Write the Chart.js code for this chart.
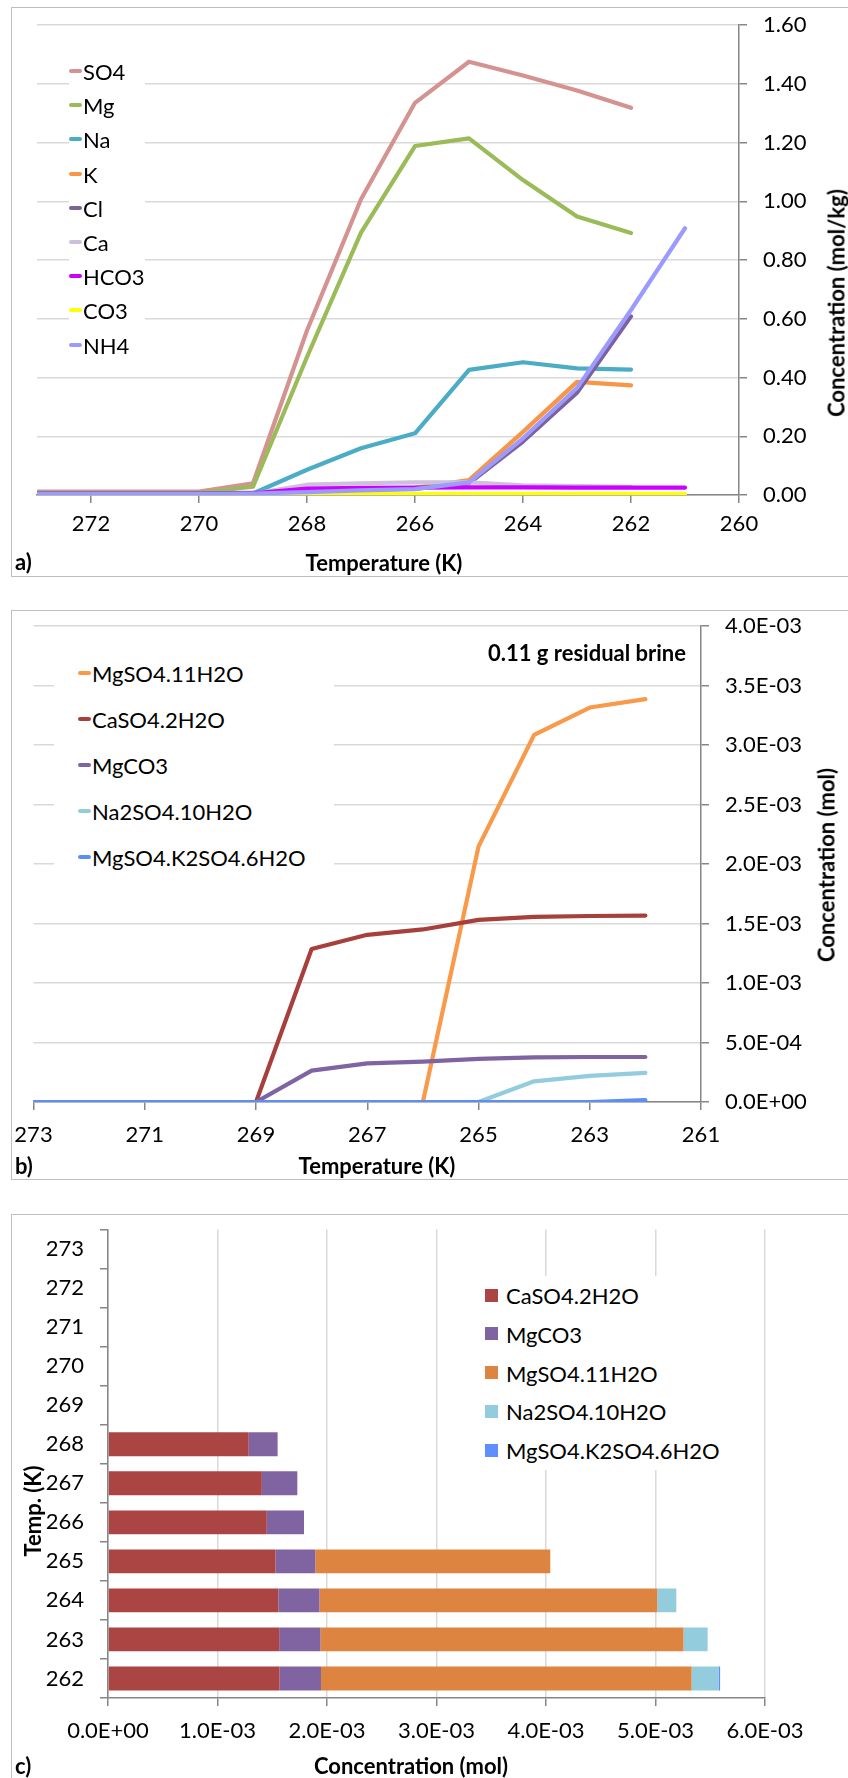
<!DOCTYPE html>
<html>
<head>
<meta charset="utf-8">
<script src="https://cdn.jsdelivr.net/npm/chart.js@4.4.0/dist/chart.umd.min.js"></script>
<style>
  body { margin: 0; background: #fff; width: 848px; height: 1778px; position: relative; overflow: hidden; font-family: Lato, "Open Sans", sans-serif; color: #000; }
  .panel { position: absolute; left: 11px; width: 850px; border: 1px solid #bfbfbf; box-sizing: border-box; }
  canvas { position: absolute; left: 0; }
  .txt { position: absolute; white-space: nowrap; transform: translate(-50%, -50%); }
  .bold { font-weight: bold; font-size: 22px; }
  .rot { transform: translate(-50%, -50%) rotate(-90deg); }
  .tag { position: absolute; white-space: nowrap; transform: translateY(-50%); font-weight: bold; font-size: 22px; }
  .legend { position: absolute; background: #fff; }
  .legend .item { position: absolute; white-space: nowrap; font-size: 22px; transform: translateY(-50%); }
  .legend .mark { position: absolute; }
</style>
</head>
<body>

<div class="panel" style="top:7px;height:570px"></div>
<div class="panel" style="top:610px;height:570px"></div>
<div class="panel" style="top:1214px;height:600px"></div>

<canvas id="chartA" width="848" height="580" style="top:0"></canvas>
<canvas id="chartB" width="848" height="590" style="top:600px"></canvas>
<canvas id="chartC" width="848" height="578" style="top:1200px"></canvas>

<div id="legendA" class="legend" style="left:69px;top:58px;width:76px;height:302px"></div>
<div id="legendB" class="legend" style="left:54px;top:648px;width:280px;height:232px"></div>
<div id="legendC" class="legend" style="left:470px;top:1276px;width:258px;height:194px"></div>

<div class="txt bold" style="left:384px;top:562px">Temperature (K)</div>
<div class="txt bold rot" style="left:836px;top:303px">Concentration (mol/kg)</div>
<div class="tag" style="left:15px;top:561px">a)</div>

<div class="tag" style="right:162px;top:652px">0.11 g residual brine</div>
<div class="txt bold" style="left:377px;top:1165px">Temperature (K)</div>
<div class="txt bold rot" style="left:826px;top:865px">Concentration (mol)</div>
<div class="tag" style="left:15px;top:1165px">b)</div>

<div class="txt bold" style="left:411px;top:1765px">Concentration (mol)</div>
<div class="txt bold rot" style="left:32px;top:1511px">Temp. (K)</div>
<div class="tag" style="left:15px;top:1765px">c)</div>

<script>
// a) brine composition
const tempA = [273, 272, 271, 270, 269, 268, 267, 266, 265, 264, 263, 262, 261];
const ionNames = ["SO4", "Mg", "Na", "K", "Cl", "Ca", "HCO3", "CO3", "NH4"];
const ionColors = ["#d49290", "#9bbb59", "#4bacc6", "#f79646", "#7d609e", "#cdc0dc", "#cc00ff", "#ffff00", "#9b9bff"];
const so4  = [0.012, 0.012, 0.012, 0.012, 0.040, 0.560, 1.007, 1.335, 1.475, 1.428, 1.377, 1.318];
const mg   = [0.008, 0.008, 0.008, 0.008, 0.028, 0.470, 0.893, 1.188, 1.214, 1.072, 0.948, 0.892];
const na   = [0.004, 0.004, 0.004, 0.004, 0.005, 0.086, 0.159, 0.210, 0.426, 0.452, 0.431, 0.427];
const k    = [0.003, 0.003, 0.003, 0.003, 0.004, 0.010, 0.018, 0.024, 0.051, 0.215, 0.385, 0.373];
const cl   = [0.006, 0.006, 0.006, 0.006, 0.007, 0.012, 0.018, 0.022, 0.040, 0.182, 0.348, 0.608];
const ca   = [0.002, 0.002, 0.002, 0.002, 0.004, 0.035, 0.040, 0.043, 0.043, 0.033, 0.030, 0.028];
const hco3 = [0.004, 0.004, 0.004, 0.004, 0.006, 0.022, 0.024, 0.025, 0.026, 0.026, 0.025, 0.025, 0.025];
const co3  = [0, 0, 0, 0, 0, 0.001, 0.003, 0.004, 0.004, 0.004, 0.004, 0.004, 0.004];
const nh4  = [0.004, 0.004, 0.004, 0.004, 0.005, 0.010, 0.016, 0.020, 0.043, 0.193, 0.364, 0.630, 0.908];
const ionValues = [so4, mg, na, k, cl, ca, hco3, co3, nh4];
const tickA = [272, 270, 268, 266, 264, 262, 260];

// b) and c) precipitated minerals
const tempB = [273, 272, 271, 270, 269, 268, 267, 266, 265, 264, 263, 262];
const tickB = [273, 271, 269, 267, 265, 263, 261];
const mgso4_11 = [0, 0, 0, 0, 0, 0, 0, 0, 2.146e-3, 3.085e-3, 3.315e-3, 3.385e-3];
const caso4    = [0, 0, 0, 0, 0, 1.285e-3, 1.405e-3, 1.450e-3, 1.530e-3, 1.556e-3, 1.563e-3, 1.567e-3];
const mgco3    = [0, 0, 0, 0, 0, 2.64e-4, 3.24e-4, 3.40e-4, 3.63e-4, 3.75e-4, 3.78e-4, 3.78e-4];
const na2so4   = [0, 0, 0, 0, 0, 0, 0, 0, 0, 1.74e-4, 2.20e-4, 2.45e-4];
const mgk2so4  = [0, 0, 0, 0, 0, 0, 0, 0, 0, 0, 0, 1.5e-5];

const lineNamesB = ["MgSO4.11H2O", "CaSO4.2H2O", "MgCO3", "Na2SO4.10H2O", "MgSO4.K2SO4.6H2O"];
const lineColorsB = ["#f9994a", "#a7403c", "#8064a2", "#93cddd", "#5b8ff5"];
const lineValuesB = [mgso4_11, caso4, mgco3, na2so4, mgk2so4];

const barNamesC = ["CaSO4.2H2O", "MgCO3", "MgSO4.11H2O", "Na2SO4.10H2O", "MgSO4.K2SO4.6H2O"];
const barColorsC = ["#ab4543", "#8064a2", "#dd8540", "#93cddd", "#5e8ffa"];
const barValuesC = [caso4, mgco3, mgso4_11, na2so4, mgk2so4];

Chart.defaults.font.family = "Lato, 'Open Sans', sans-serif";
Chart.defaults.font.size = 22;
Chart.defaults.color = "#000";

const axisGrey = "#868686";
const gridGrey = "#d9d9d9";

function pts(xs, ys) {
  return ys.map((y, i) => ({ x: xs[i], y: y }));
}

function sci(v) {
  if (Math.abs(v) < 1e-12) return "0.0E+00";
  const parts = v.toExponential(1).split("e");
  const e = parseInt(parts[1], 10);
  return parts[0] + "E" + (e < 0 ? "-" : "+") + String(Math.abs(e)).padStart(2, "0");
}

function lineSets(names, colors, values, xs) {
  return names.map((name, i) => ({
    label: name,
    data: pts(xs, values[i]),
    borderColor: colors[i],
    backgroundColor: colors[i],
    borderWidth: 4.2,
    pointRadius: 0,
    tension: 0,
    borderCapStyle: "round",
    borderJoinStyle: "round",
    order: names.length - i
  }));
}

function tempAxis(min, max, ticks, height, pad) {
  return {
    type: "linear", reverse: true, min: min, max: max,
    afterBuildTicks: s => { s.ticks = ticks.map(v => ({ value: v })); },
    afterFit: s => { s.height = height; s.paddingLeft = 0; s.paddingRight = 0; },
    grid: { drawOnChartArea: false, tickLength: 8, color: axisGrey, tickColor: axisGrey, lineWidth: 1.5 },
    border: { color: axisGrey, width: 1.5 },
    ticks: { padding: pad, maxRotation: 0, autoSkip: false }
  };
}

function concAxis(max, step, fmt, width) {
  return {
    position: "right", min: 0, max: max,
    afterFit: s => { s.width = width; s.paddingTop = 0; s.paddingBottom = 0; },
    grid: { color: gridGrey, tickColor: axisGrey, tickLength: 8, lineWidth: 1.5 },
    border: { color: axisGrey, width: 1.5 },
    ticks: { stepSize: step, callback: fmt, padding: 16 }
  };
}

const chartA = new Chart("chartA", {
  type: "line",
  data: { datasets: lineSets(ionNames, ionColors, ionValues, tempA) },
  options: {
    responsive: false, animation: false,
    layout: { padding: { left: 37, right: 0, top: 25, bottom: 0 } },
    plugins: { legend: { display: false }, tooltip: { enabled: false } },
    scales: {
      x: tempAxis(260, 273, tickA, 85, 8),
      y: concAxis(1.6, 0.2, v => v.toFixed(2), 109)
    }
  }
});

const chartB = new Chart("chartB", {
  type: "line",
  data: { datasets: lineSets(lineNamesB, lineColorsB, lineValuesB, tempB) },
  options: {
    responsive: false, animation: false,
    layout: { padding: { left: 33.5, right: 0, top: 26, bottom: 0 } },
    plugins: { legend: { display: false }, tooltip: { enabled: false } },
    scales: {
      x: tempAxis(261, 273, tickB, 88, 12),
      y: concAxis(0.004, 0.0005, sci, 147)
    }
  }
});

const chartC = new Chart("chartC", {
  type: "bar",
  data: {
    labels: tempB.map(String),
    datasets: barNamesC.map((name, i) => ({
      label: name,
      data: barValuesC[i],
      backgroundColor: barColorsC[i],
      borderWidth: 0,
      barPercentage: 0.61,
      categoryPercentage: 1
    }))
  },
  options: {
    indexAxis: "y",
    responsive: false, animation: false,
    layout: { padding: { left: 0, right: 83, top: 29.5, bottom: 0 } },
    plugins: { legend: { display: false }, tooltip: { enabled: false } },
    scales: {
      x: {
        stacked: true, min: 0, max: 0.006,
        afterFit: s => { s.height = 80; s.paddingLeft = 0; s.paddingRight = 0; },
        grid: { color: gridGrey, tickColor: axisGrey, tickLength: 8, lineWidth: 1.5 },
        border: { color: axisGrey, width: 1.5 },
        ticks: { stepSize: 0.001, callback: sci, padding: 12, maxRotation: 0 }
      },
      y: {
        stacked: true,
        afterFit: s => { s.width = 108; s.paddingTop = 0; s.paddingBottom = 0; },
        grid: { drawOnChartArea: false, tickLength: 8, color: axisGrey, tickColor: axisGrey, lineWidth: 1.5 },
        border: { color: axisGrey, width: 1.5 },
        ticks: { padding: 16 }
      }
    }
  }
});

// html legends built from the chart datasets
function buildLegend(id, chart, markLeft, markW, markH, textLeft, firstY, gap) {
  const box = document.getElementById(id);
  const top = box.offsetTop;
  const left = box.offsetLeft;
  chart.data.datasets.forEach((ds, i) => {
    const cy = firstY + gap * i - top;
    const color = ds.borderWidth ? ds.borderColor : ds.backgroundColor;
    box.insertAdjacentHTML("beforeend", `
      <div class="mark" style="left:${markLeft - left}px;top:${cy - markH / 2}px;width:${markW}px;height:${markH}px;background:${color};border-radius:${markH < 6 ? 2 : 0}px"></div>
      <div class="item" style="left:${textLeft - left}px;top:${cy}px">${ds.label}</div>
    `);
  });
}

buildLegend("legendA", chartA, 69, 13, 4, 83, 71, 34.2);
buildLegend("legendB", chartB, 78, 13, 4, 92, 673, 46);
buildLegend("legendC", chartC, 485, 13, 13, 506, 1295, 38.8);
</script>
</body>
</html>
